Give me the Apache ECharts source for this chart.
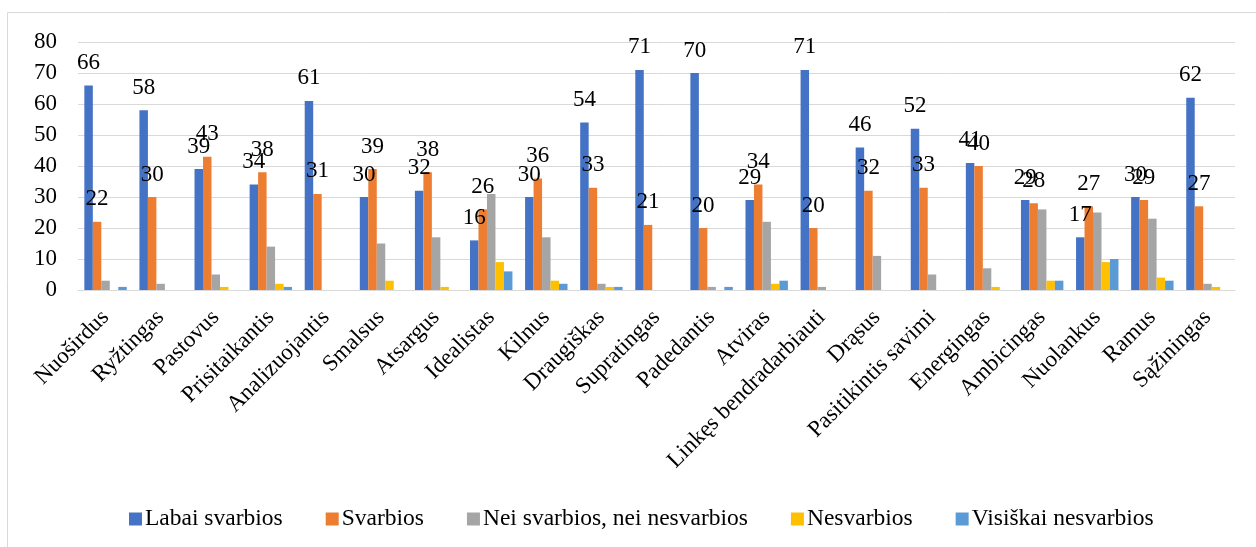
<!DOCTYPE html>
<html>
<head>
<meta charset="utf-8">
<script src="https://cdn.jsdelivr.net/npm/echarts@6/dist/echarts.min.js"></script>
<style>
html,body{margin:0;padding:0;background:#fff;}
#chart{width:1256px;height:547px;}
</style>
</head>
<body>
<div id="chart"></div>
<script>
const categories = ["Nuoširdus","Ryžtingas","Pastovus","Prisitaikantis","Analizuojantis","Smalsus","Atsargus","Idealistas","Kilnus","Draugiškas","Supratingas","Padedantis","Atviras","Linkęs bendradarbiauti","Drąsus","Pasitikintis savimi","Energingas","Ambicingas","Nuolankus","Ramus","Sąžiningas"];
const labaiSvarbios = [66,58,39,34,61,30,32,16,30,54,71,70,29,71,46,52,41,29,17,30,62];
const svarbios = [22,30,43,38,31,39,38,26,36,33,21,20,34,20,32,33,40,28,27,29,27];
const neiNei = [3,2,5,14,0,15,17,31,17,2,0,1,22,1,11,5,7,26,25,23,2];
const nesvarbios = [0,0,1,2,0,3,1,9,3,1,0,0,2,0,0,0,1,3,9,4,1];
const visiskaiNesvarbios = [1,0,0,1,0,0,0,6,2,1,0,1,3,0,0,0,0,3,10,3,0];
const seriesNames = ["Labai svarbios","Svarbios","Nei svarbios, nei nesvarbios","Nesvarbios","Visiškai nesvarbios"];
const yTicks = [0,10,20,30,40,50,60,70,80];

const FONT = "'Liberation Serif','Times New Roman',serif";
const colors = ['#4472C4','#ED7D31','#A5A5A5','#FFC000','#5B9BD5'];
const dataSets = [labaiSvarbios, svarbios, neiNei, nesvarbios, visiskaiNesvarbios];

const chart = echarts.init(document.getElementById('chart'), null, {renderer:'canvas'});
const series = dataSets.map((d, i) => ({
  name: seriesNames[i],
  type: 'bar',
  data: d,
  barGap: '0%',
  barCategoryGap: '23%',
  itemStyle: { color: colors[i] },
  label: {
    show: i < 2,
    position: 'top',
    distance: 11,
    color: '#000',
    fontFamily: FONT,
    fontSize: 23
  },
  emphasis: { disabled: true }
}));

chart.setOption({
  animation: false,
  textStyle: { fontFamily: FONT },
  graphic: [{
    type: 'rect',
    shape: { x: 7.5, y: 12.5, width: 1400, height: 700 },
    style: { fill: 'none', stroke: '#d9d9d9', lineWidth: 1 },
    silent: true
  }],
  grid: { left: 78, right: 21, top: 42, bottom: 257, containLabel: false },
  legend: {
    bottom: 11,
    left: 124,
    itemWidth: 13,
    itemHeight: 13,
    itemGap: 43,
    icon: 'rect',
    textStyle: { fontFamily: FONT, fontSize: 23.5, color: '#000', padding: [0,0,0,-2] },
    data: seriesNames
  },
  xAxis: {
    type: 'category',
    data: categories,
    axisLine: { lineStyle: { color: '#d9d9d9', width: 1 } },
    axisTick: { show: false },
    axisLabel: { rotate: 45, interval: 0, color: '#000', fontFamily: FONT, fontSize: 23, margin: 24 }
  },
  yAxis: {
    type: 'value',
    min: yTicks[0],
    max: yTicks[yTicks.length-1],
    interval: 10,
    axisLine: { show: false },
    axisTick: { show: false },
    splitLine: { lineStyle: { color: '#d9d9d9', width: 1 } },
    axisLabel: { color: '#000', fontFamily: FONT, fontSize: 23, margin: 21 }
  },
  series: series
});
</script>
</body>
</html>
